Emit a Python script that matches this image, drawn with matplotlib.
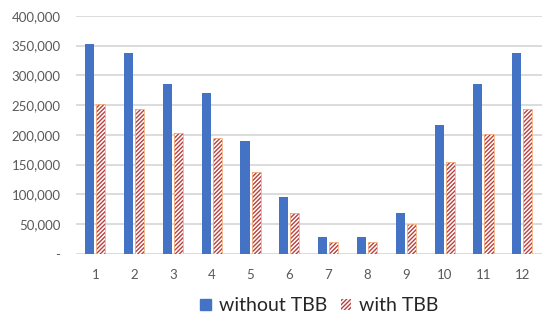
import matplotlib.pyplot as plt
import numpy as np
from matplotlib.patches import Patch
from matplotlib.ticker import FuncFormatter

plt.rcParams["font.family"] = ["Lato", "DejaVu Sans"]
plt.rcParams["hatch.linewidth"] = 1.0

months = [1, 2, 3, 4, 5, 6, 7, 8, 9, 10, 11, 12]
without_tbb = [352000, 338000, 285000, 270000, 189000, 96000, 27600, 27600, 69000, 216000, 285000, 338000]
with_tbb = [251000, 243000, 203000, 195000, 137000, 69000, 20000, 20000, 50000, 155000, 202000, 243000]

BLUE = "#4472C4"
RED = "#B8413E"
GRID = "#D9D9D9"
TEXT = "#595959"

fig = plt.figure(figsize=(5.46, 3.22), dpi=100)
ax = fig.add_axes([0.139, 0.212, 0.853, 0.739])

x = np.arange(len(months)) + 1
w = 0.235
ax.bar(x - w / 2 - 0.025, without_tbb, width=w, color=BLUE, zorder=3)
ax.bar(x + w / 2 + 0.025, with_tbb, width=w, color="white", edgecolor=RED,
       hatch="////////", linewidth=0, zorder=3)
# thin orange outline like the source
ax.bar(x + w / 2 + 0.025, with_tbb, width=w, fill=False, edgecolor="#F4B183",
       linewidth=0.6, zorder=4)

ax.set_xlim(0.5, 12.5)
ax.set_ylim(0, 400000)
ax.set_yticks(np.arange(0, 400001, 50000))
ax.yaxis.set_major_formatter(FuncFormatter(lambda v, p: "-" if v == 0 else f"{int(v):,}"))
ax.set_xticks(x)
ax.set_xticklabels([str(m) for m in months])

ax.grid(axis="y", color=GRID, linewidth=1.3, zorder=0)
for s in ax.spines.values():
    s.set_visible(False)
ax.tick_params(axis="both", length=0, colors=TEXT, labelsize=9.5)
ax.tick_params(axis="y", pad=11)
ax.tick_params(axis="x", pad=11)

handles = [
    Patch(facecolor=BLUE, edgecolor=BLUE, label="without TBB"),
    Patch(facecolor="white", edgecolor=RED, hatch="////////", linewidth=0, label="with TBB"),
]
leg = fig.legend(handles=handles, loc="center", bbox_to_anchor=(0.585, 0.05), ncol=2,
                 frameon=False, fontsize=14, handlelength=0.55, handleheight=0.55,
                 handletextpad=0.4, columnspacing=0.7, labelcolor="#262626")

fig.savefig("out.png", dpi=100)
